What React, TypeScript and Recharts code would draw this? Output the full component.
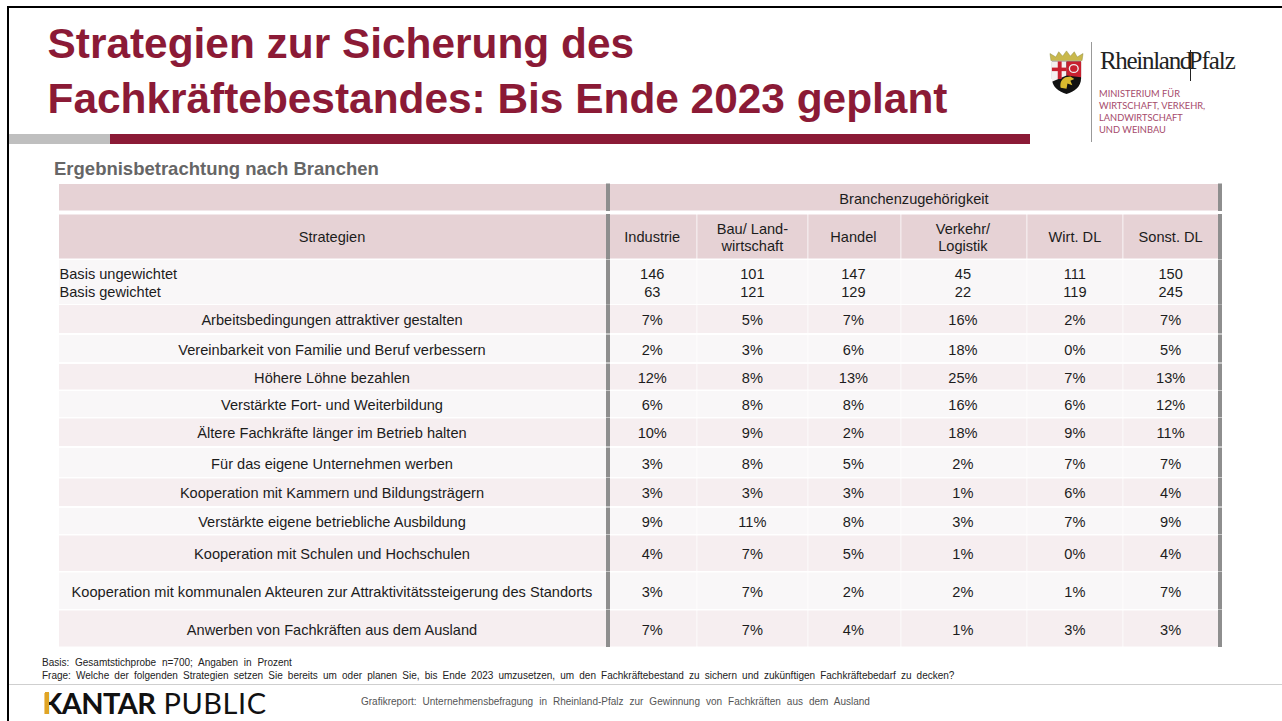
import { ScatterChart, Scatter, XAxis, YAxis } from 'recharts';

const title = ['Strategien zur Sicherung des', 'Fachkräftebestandes: Bis Ende 2023 geplant'];
const industries = ['Industrie', 'Bau/ Land-\nwirtschaft', 'Handel', 'Verkehr/\nLogistik', 'Wirt. DL', 'Sonst. DL'];
const strategies = [
  'Arbeitsbedingungen attraktiver gestalten',
  'Vereinbarkeit von Familie und Beruf verbessern',
  'Höhere Löhne bezahlen',
  'Verstärkte Fort- und Weiterbildung',
  'Ältere Fachkräfte länger im Betrieb halten',
  'Für das eigene Unternehmen werben',
  'Kooperation mit Kammern und Bildungsträgern',
  'Verstärkte eigene betriebliche Ausbildung',
  'Kooperation mit Schulen und Hochschulen',
  'Kooperation mit kommunalen Akteuren zur Attraktivitätssteigerung des Standorts',
  'Anwerben von Fachkräften aus dem Ausland',
];
const basisUngewichtet = [146, 101, 147, 45, 111, 150];
const basisGewichtet = [63, 121, 129, 22, 119, 245];
const industrie = [7, 2, 12, 6, 10, 3, 3, 9, 4, 3, 7];
const bauLandwirtschaft = [5, 3, 8, 8, 9, 8, 3, 11, 7, 7, 7];
const handel = [7, 6, 13, 8, 2, 5, 3, 8, 5, 2, 4];
const verkehrLogistik = [16, 18, 25, 16, 18, 2, 1, 3, 1, 2, 1];
const wirtDl = [2, 0, 7, 6, 9, 7, 6, 7, 0, 1, 3];
const sonstDl = [7, 5, 13, 12, 11, 7, 4, 9, 4, 7, 3];
const seriesValues = [industrie, bauLandwirtschaft, handel, verkehrLogistik, wirtDl, sonstDl];

const STRATEGY_COL = 'Strategien';
const MERGED_COL = 'Branchenzugehörigkeit';
const TOP_ROW = 'top';
const HEAD_ROW = 'head';
const BASIS_ROW = 'basis';

// table layout: the page is one chart, the axes map column/row names to their edges
const colEdges = [610, 696.5, 807.5, 900.5, 1026.5, 1122.5, 1218];
const rowEdges = [
  [305, 333], [335, 362], [364, 389.5], [391, 417], [418.5, 446], [448, 477],
  [478.5, 506], [508, 534], [535.5, 571], [572.5, 609], [610.5, 646.5],
];

const colBox: Record<string, number[]> = {
  [STRATEGY_COL]: [59, 606],
  [MERGED_COL]: [610, 1218],
};
industries.forEach((c, i) => { colBox[c] = [colEdges[i] + (i ? 0.8 : 0), colEdges[i + 1]]; });

const rowBox: Record<string, number[]> = {
  [TOP_ROW]: [184, 210.5],
  [HEAD_ROW]: [214.5, 258.5],
  [BASIS_ROW]: [260, 304],
};
strategies.forEach((s, i) => { rowBox[s] = rowEdges[i]; });

const colCenterFix: Record<string, number> = {
  [STRATEGY_COL]: -0.5,
  [industries[0]]: -1,
  [industries[2]]: -1,
  [industries[3]]: -1,
};
const rowCenterFix: Record<string, number> = { [TOP_ROW]: 1.8, [HEAD_ROW]: 0.5, [BASIS_ROW]: 1 };
strategies.forEach((s) => { rowCenterFix[s] = 1; });

// categorical scale with uneven slots, as the table's columns and rows are uneven
function slotScale(box: Record<string, number[]>, fix: Record<string, number> = {}) {
  const s: any = (v: string) => (box[v] ? (box[v][0] + box[v][1]) / 2 + (fix[v] || 0) : undefined);
  s.domain = (d?: string[]) => (d ? s : Object.keys(box));
  s.range = (r?: number[]) => (r ? s : [0, 1282]);
  s.copy = () => s;
  s.bandwidth = () => 0;
  return s;
}

interface Cell {
  column: string;
  row: string;
  lines: string[];
  left?: boolean;
}

const cells: Cell[] = [
  { column: STRATEGY_COL, row: TOP_ROW, lines: [] },
  { column: MERGED_COL, row: TOP_ROW, lines: [MERGED_COL] },
  { column: STRATEGY_COL, row: HEAD_ROW, lines: [STRATEGY_COL] },
  { column: STRATEGY_COL, row: BASIS_ROW, lines: ['Basis ungewichtet', 'Basis gewichtet'], left: true },
  ...industries.map((c) => ({ column: c, row: HEAD_ROW, lines: c.split('\n') })),
  ...industries.map((c, i) => ({
    column: c,
    row: BASIS_ROW,
    lines: [String(basisUngewichtet[i]), String(basisGewichtet[i])],
  })),
  ...strategies.flatMap((s, r) => [
    { column: STRATEGY_COL, row: s, lines: [s] },
    ...industries.map((c, i) => ({ column: c, row: s, lines: [`${seriesValues[i][r]}%`] })),
  ]),
];

const FONT = '"Liberation Sans", Arial, sans-serif';
const CRIMSON = '#8B1A36';

function cellFill(row: string) {
  if (row === TOP_ROW || row === HEAD_ROW) return '#E6D2D5';
  if (row === BASIS_ROW) return '#F9F7F8';
  return strategies.indexOf(row) % 2 === 0 ? '#F6EEF0' : '#F9F7F8';
}

function TableCell(props: any) {
  const { cx, cy, payload } = props;
  const cell: Cell = payload;
  const [x0, x1] = colBox[cell.column];
  const [y0, y1] = rowBox[cell.row];
  const isLast = cell.column === industries[5] || cell.column === MERGED_COL;
  const lineH = cell.row === BASIS_ROW ? 18 : 17;
  const startY = cy - ((cell.lines.length - 1) * lineH) / 2;
  return (
    <g>
      <rect x={x0} y={y0} width={x1 - x0} height={y1 - y0} fill={cellFill(cell.row)} />
      {cell.column === STRATEGY_COL && (
        <rect x={606} y={y0 - 0.5} width={4} height={y1 - y0 + 1} fill="#8E8E8E" />
      )}
      {isLast && <rect x={1218} y={y0 - 0.5} width={4} height={y1 - y0 + 1} fill="#8E8E8E" />}
      {cell.lines.map((t, i) => (
        <text
          key={t}
          x={cell.left ? 59.5 : cx}
          y={startY + i * lineH}
          textAnchor={cell.left ? 'start' : 'middle'}
          dominantBaseline="central"
          fontFamily={FONT}
          fontSize={14.6}
          fill="#1C1C1C"
        >
          {t}
        </text>
      ))}
    </g>
  );
}

function Crest() {
  return (
    <svg width={35} height={44} viewBox="0 0 36 50" preserveAspectRatio="none" style={{ position: 'absolute', left: 1049, top: 50 }}>
      <path d="M2 12 L1 4 L7 8 L10 2 L14 7 L18 1 L22 7 L26 2 L29 8 L35 4 L34 12 Z" fill="#C9B84C" stroke="#8a8a3a" strokeWidth={0.5} />
      <path d="M3 13 H33 V32 C33 42 26 47 18 50 C10 47 3 42 3 32 Z" fill="#111" />
      <path d="M3 13 H18 L18 29 L3 36 Z" fill="#F4F0F0" />
      <rect x={9} y={13} width={4} height={20} fill="#C8202F" />
      <rect x={3} y={20} width={15} height={4} fill="#C8202F" />
      <path d="M18 13 H33 V31 L18 29 Z" fill="#C8202F" />
      <circle cx={25.5} cy={21} r={4.5} fill="none" stroke="#EEE" strokeWidth={1.4} />
      <path d="M12 43 C11 37 13 33 17 31 L22 30 L26 33 L22 35 L24 40 L19 38 L18 44 Z" fill="#D9B92E" />
    </svg>
  );
}

function Abs({ left, top, style, children }: any) {
  return (
    <div style={{ position: 'absolute', left, top, whiteSpace: 'nowrap', fontFamily: FONT, ...style }}>
      {children}
    </div>
  );
}

const LOGO_SERIF = { fontFamily: '"Liberation Serif", serif', fontSize: 25, lineHeight: '30px', color: '#222', letterSpacing: -1.3 };

export default function App() {
  return (
    <div style={{ position: 'absolute', left: 0, top: 0, width: 1282, height: 721, overflow: 'hidden', background: '#fff' }}>
      {/* frame */}
      <div style={{ position: 'absolute', left: 7, top: 6, width: 1275, height: 2, background: '#000' }} />
      <div style={{ position: 'absolute', left: 7, top: 6, width: 2, height: 715, background: '#000' }} />

      {title.map((t, i) => (
        <Abs key={t} left={47.5} top={i === 0 ? 20 : 75} style={{ fontSize: 42.4, lineHeight: '48px', fontWeight: 700, color: CRIMSON }}>
          {t}
        </Abs>
      ))}
      <div style={{ position: 'absolute', left: 9, top: 133.5, width: 101, height: 10, background: '#BFBFBF' }} />
      <div style={{ position: 'absolute', left: 110, top: 133.5, width: 920, height: 10, background: CRIMSON }} />

      <Crest />
      <div style={{ position: 'absolute', left: 1091, top: 42, width: 1, height: 100, background: '#999' }} />
      <Abs left={1100} top={46} style={LOGO_SERIF}>Rheinland</Abs>
      <div style={{ position: 'absolute', left: 1190, top: 50, width: 1.2, height: 31, background: '#222' }} />
      <Abs left={1188.5} top={46} style={{ ...LOGO_SERIF, letterSpacing: -1 }}>Pfalz</Abs>
      {['MINISTERIUM FÜR', 'WIRTSCHAFT, VERKEHR,', 'LANDWIRTSCHAFT', 'UND WEINBAU'].map((t, i) => (
        <Abs key={t} left={1099} top={88 + i * 12} style={{ fontFamily: 'Lato, sans-serif', fontSize: 9.3, lineHeight: '12px', color: '#A64B6C' }}>
          {t}
        </Abs>
      ))}

      <Abs left={54} top={159} style={{ fontSize: 18.5, lineHeight: '20px', fontWeight: 700, color: '#666' }}>
        Ergebnisbetrachtung nach Branchen
      </Abs>

      <div style={{ position: 'absolute', left: 0, top: 0 }}>
        <ScatterChart width={1282} height={721} margin={{ top: 0, right: 0, bottom: 0, left: 0 }}>
          <XAxis type="category" dataKey="column" hide allowDuplicatedCategory={false} scale={slotScale(colBox, colCenterFix)} />
          <YAxis type="category" dataKey="row" hide allowDuplicatedCategory={false} scale={slotScale(rowBox, rowCenterFix)} />
          <Scatter data={cells} isAnimationActive={false} shape={TableCell} />
        </ScatterChart>
      </div>

      <Abs left={42} top={657} style={{ fontSize: 10, lineHeight: '12px', color: '#222', wordSpacing: 3 }}>
        Basis: Gesamtstichprobe n=700; Angaben in Prozent
      </Abs>
      <Abs left={42} top={670} style={{ fontSize: 10, lineHeight: '12px', color: '#222', wordSpacing: 2.35 }}>
        Frage: Welche der folgenden Strategien setzen Sie bereits um oder planen Sie, bis Ende 2023 umzusetzen, um den Fachkräftebestand zu sichern und zukünftigen Fachkräftebedarf zu decken?
      </Abs>
      <div style={{ position: 'absolute', left: 9, top: 684, width: 1273, height: 1, background: '#CFCFCF' }} />
      <Abs left={42.5} top={686} style={{ fontFamily: 'Lato, sans-serif', fontSize: 29, lineHeight: '34px', color: '#111' }}>
        <span style={{ fontWeight: 700, letterSpacing: -0.6 }}>KANTAR</span>
        <span style={{ letterSpacing: 0.55, marginLeft: 8 }}>PUBLIC</span>
      </Abs>
      <div style={{ position: 'absolute', left: 45, top: 692, width: 4, height: 22, background: '#E0A526' }} />
      <Abs left={361} top={696} style={{ fontSize: 10, lineHeight: '12px', color: '#555', wordSpacing: 3.2 }}>
        Grafikreport: Unternehmensbefragung in Rheinland-Pfalz zur Gewinnung von Fachkräften aus dem Ausland
      </Abs>
    </div>
  );
}
